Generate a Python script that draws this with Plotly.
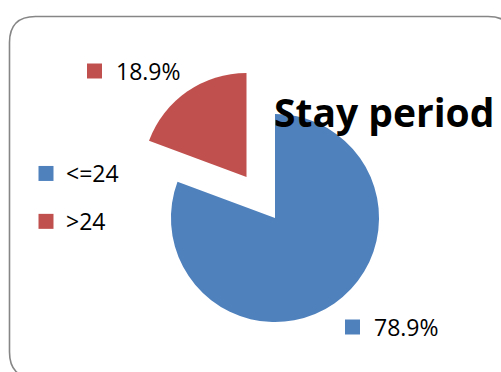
import plotly.graph_objects as go

# ---- data ----
categories = ["<=24", ">24"]
values = [78.9, 18.9]
value_labels = ["78.9%", "18.9%"]
colors = ["#4F81BD", "#C0504D"]
title_text = "Stay period"

W, H = 501, 372

def px(x):
    return x / W

def py(y):
    return 1 - y / H

fig = go.Figure()

fig.add_trace(go.Pie(
    labels=categories,
    values=values,
    sort=False,
    direction="clockwise",
    rotation=0,
    pull=[0, 0.48],
    marker=dict(colors=colors, line=dict(width=0)),
    textinfo="none",
    hoverinfo="label+value",
    showlegend=False,
    domain=dict(x=[px(121), px(429)], y=[0, 308 / H]),
))

# legend entries (square markers) via empty scatter traces
for i, (cat, col) in enumerate(zip(categories, colors)):
    fig.add_trace(go.Scatter(
        x=[None], y=[None], mode="markers", name=cat,
        legendgroup=f"g{i}",
        marker=dict(symbol="square", size=15, color=col),
    ))

shapes = []
annotations = []

# outside value labels with coloured squares
label_pos = [(372, 327), (114, 71)]  # text left x, centre y (px)
for txt, col, (lx, ly) in zip(value_labels, colors, label_pos):
    shapes.append(dict(type="rect", xref="paper", yref="paper",
                       x0=px(lx - 27), x1=px(lx - 12),
                       y0=py(ly + 7.5), y1=py(ly - 7.5),
                       fillcolor=col, line=dict(width=0)))
    annotations.append(dict(text=txt, xref="paper", yref="paper",
                            x=px(lx), y=py(ly), xanchor="left", yanchor="middle",
                            showarrow=False,
                            font=dict(family="Open Sans", size=23, color="#000000")))

# rounded chart border
x0, x1 = px(9.5), px(514)
y0, y1 = py(378), py(16.5)
rx, ry = 26 / W, 26 / H
path = (f"M {x0+rx},{y1} L {x1-rx},{y1} Q {x1},{y1} {x1},{y1-ry} "
        f"L {x1},{y0+ry} Q {x1},{y0} {x1-rx},{y0} "
        f"L {x0+rx},{y0} Q {x0},{y0} {x0},{y0+ry} "
        f"L {x0},{y1-ry} Q {x0},{y1} {x0+rx},{y1} Z")
shapes.append(dict(type="path", xref="paper", yref="paper", path=path,
                   line=dict(color="#868686", width=1.6), layer="below"))

fig.update_layout(
    width=W, height=H,
    margin=dict(l=0, r=0, t=0, b=0),
    paper_bgcolor="white", plot_bgcolor="white",
    title=dict(text=f"<b>{title_text}</b>", x=px(274), xanchor="left",
               y=py(113), yanchor="middle",
               font=dict(family="Open Sans", size=39, color="#000000")),
    xaxis=dict(visible=False), yaxis=dict(visible=False),
    showlegend=True,
    legend=dict(x=px(26), xanchor="left", y=py(152), yanchor="top",
                font=dict(family="Open Sans", size=23, color="#000000"),
                traceorder="grouped", tracegroupgap=15,
                bgcolor="rgba(0,0,0,0)"),
    shapes=shapes,
    annotations=annotations,
)

fig.write_html("out.html")
